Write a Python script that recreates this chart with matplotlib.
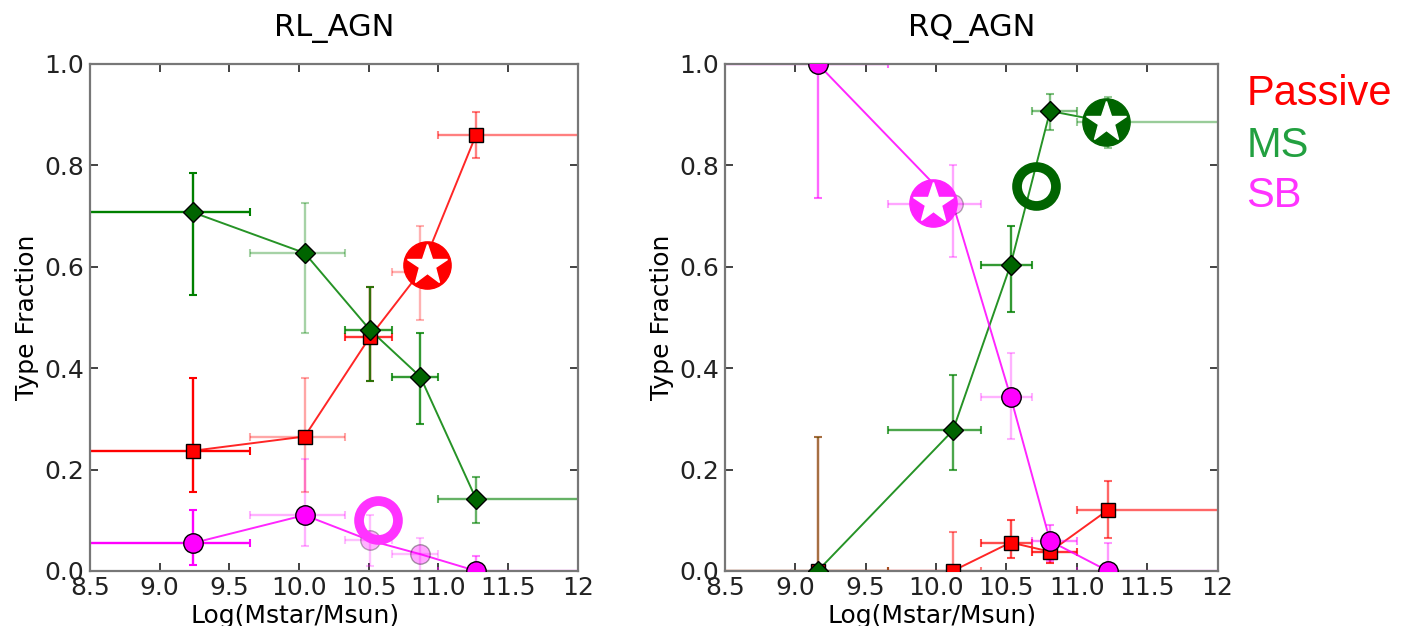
import numpy as np
import matplotlib.pyplot as plt

# ---- data ----
edges_L = [8.0, 9.65, 10.33, 10.67, 11.0, 12.5]
edges_R = [8.0, 9.66, 10.32, 10.68, 11.0, 12.5]

x_L = [9.24, 10.04, 10.51, 10.87, 11.27]
x_R = [9.16, 10.12, 10.53, 10.81, 11.22]

# RL_AGN
pas_L = [0.237, 0.265, 0.462, 0.59, 0.86]
pas_L_lo = [0.155, 0.155, 0.375, 0.495, 0.815]
pas_L_hi = [0.38, 0.38, 0.56, 0.68, 0.905]
ms_L = [0.707, 0.627, 0.475, 0.383, 0.142]
ms_L_lo = [0.545, 0.47, 0.375, 0.29, 0.095]
ms_L_hi = [0.785, 0.725, 0.56, 0.47, 0.185]
sb_L = [0.055, 0.11, 0.06, 0.033, 0.0]
sb_L_lo = [0.012, 0.05, 0.01, 0.0, 0.0]
sb_L_hi = [0.12, 0.22, 0.11, 0.065, 0.03]

# RQ_AGN
pas_R = [0.0, 0.0, 0.056, 0.038, 0.12]
pas_R_lo = [0.0, 0.0, 0.025, 0.015, 0.065]
pas_R_hi = [0.265, 0.077, 0.1, 0.06, 0.177]
ms_R = [0.0, 0.277, 0.604, 0.907, 0.885]
ms_R_lo = [0.0, 0.2, 0.51, 0.87, 0.835]
ms_R_hi = [0.265, 0.386, 0.68, 0.94, 0.935]
sb_R = [1.0, 0.724, 0.343, 0.059, 0.0]
sb_R_lo = [0.735, 0.62, 0.26, 0.02, 0.0]
sb_R_hi = [1.0, 0.80, 0.43, 0.09, 0.055]

# error bar / marker transparency per point
ea_L = {"pas": [1.0, 0.35, 0.8, 0.3, 0.5], "ms": [1.0, 0.35, 0.8, 0.8, 0.6], "sb": [1.0, 0.3, 0.25, 0.25, 0.5]}
ma_L = {"pas": [1, 1, 1, 0.3, 1], "ms": [1, 1, 1, 1, 1], "sb": [1, 1, 0.3, 0.35, 1]}
ea_R = {"pas": [0.6, 0.5, 0.7, 0.8, 0.6], "ms": [0.35, 0.7, 0.8, 0.5, 0.4], "sb": [0.6, 0.35, 0.3, 0.5, 0.4]}
ma_R = {"pas": [1, 1, 1, 1, 1], "ms": [1, 1, 1, 1, 0.3], "sb": [1, 0.3, 1, 1, 1]}

# highlighted symbols (x, y, colour, kind)
marks_L = [(10.92, 0.603, "#ff0000", "star"), (10.57, 0.10, "#ff33ff", "ring")]
marks_R = [(9.98, 0.725, "#ff22ff", "star"), (10.71, 0.76, "#006400", "ring"),
           (11.21, 0.885, "#006400", "star")]

types = [("pas", "#ff0000", "#ff0000", "s", 10),
         ("ms", "#008000", "#006400", "D", 10),
         ("sb", "#ff00ff", "#ff00ff", "o", 14)]


def panel(ax, title, x, edges, series, ea, ma, marks):
    for key, lc, mc, mk, ms in types:
        y, lo, hi = series[key]
        ax.plot(x, y, "-", color=lc, lw=1.4, alpha=0.85, zorder=2)
        for i in range(len(x)):
            ax.errorbar(x[i], y[i],
                        xerr=[[x[i] - edges[i]], [edges[i + 1] - x[i]]],
                        yerr=[[y[i] - lo[i]], [hi[i] - y[i]]],
                        fmt="none", ecolor=lc, elinewidth=1.7, capsize=3,
                        capthick=1.5, alpha=ea[key][i], zorder=2)
            ax.plot(x[i], y[i], mk, color=mc, mec="black", mew=1.0, ms=ms,
                    alpha=ma[key][i], zorder=3)
    for mx, my, c, kind in marks:
        if kind == "star":
            ax.plot(mx, my, "o", color=c, ms=34, mec=c, zorder=5, clip_on=False)
            ax.plot(mx, my, "*", color="white", ms=30, mec="white", zorder=6, clip_on=False)
        else:
            ax.plot(mx, my, "o", mfc="none", mec=c, ms=28, mew=7, zorder=5, clip_on=False)
    ax.set_xlim(8.5, 12)
    ax.set_ylim(0, 1)
    ax.set_xticks(np.arange(8.5, 12.01, 0.5))
    ax.set_xticklabels(["8.5", "9.0", "9.5", "10.0", "10.5", "11.0", "11.5", "12"])
    ax.set_yticks(np.arange(0, 1.01, 0.2))
    ax.set_yticklabels(["0.0", "0.2", "0.4", "0.6", "0.8", "1.0"])
    ax.tick_params(direction="in", top=True, right=True, length=6, width=1.2,
                   labelsize=18, pad=4, colors="#222222")
    for s in ax.spines.values():
        s.set_color("#777777")
        s.set_linewidth(1.6)
    ax.set_title(title, fontsize=22, pad=20)
    ax.set_xlabel("Log(Mstar/Msun)", fontsize=18)
    ax.xaxis.set_label_coords(0.42, -0.065)
    ax.set_ylabel("Type Fraction", fontsize=18, labelpad=4)


fig = plt.figure(figsize=(14.1, 6.26), dpi=100)
axL = fig.add_axes([0.0638, 0.088, 0.346, 0.810])
axR = fig.add_axes([0.514, 0.088, 0.3496, 0.810])

panel(axL, "RL_AGN", x_L, edges_L,
      {"pas": (pas_L, pas_L_lo, pas_L_hi), "ms": (ms_L, ms_L_lo, ms_L_hi),
       "sb": (sb_L, sb_L_lo, sb_L_hi)}, ea_L, ma_L, marks_L)
panel(axR, "RQ_AGN", x_R, edges_R,
      {"pas": (pas_R, pas_R_lo, pas_R_hi), "ms": (ms_R, ms_R_lo, ms_R_hi),
       "sb": (sb_R, sb_R_lo, sb_R_hi)}, ea_R, ma_R, marks_R)

# colour key on the right
for txt, c, yy in [("Passive", "#ff0000", 0.850), ("MS", "#22a040", 0.766), ("SB", "#ff33ff", 0.687)]:
    fig.text(0.884, yy, txt, color=c, fontsize=30, family="Liberation Sans", va="center")

fig.savefig("out.png", dpi=100)
